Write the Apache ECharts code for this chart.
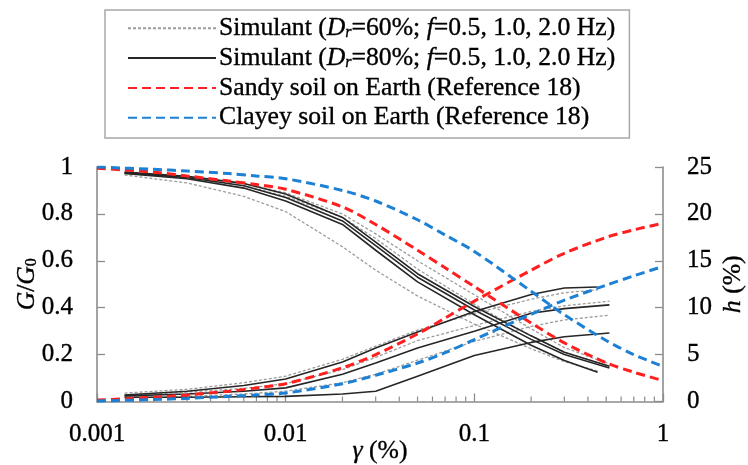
<!DOCTYPE html>
<html>
<head>
<meta charset="utf-8">
<script src="https://cdn.jsdelivr.net/npm/echarts@6/dist/echarts.min.js"></script>
<style>
  html, body { margin: 0; padding: 0; background: #fff; }
  #chart { width: 748px; height: 465px; }
</style>
</head>
<body>
<div id="chart"></div>
<script>
// Reference curves for Earth soils (Reference 18); shear strain in %
const strainRef = [0.001, 0.002, 0.003, 0.005, 0.007, 0.01, 0.02, 0.03, 0.05, 0.07, 0.1, 0.2, 0.3, 0.5, 0.7, 1];
const sandyG  = [0.995, 0.978, 0.962, 0.94, 0.925, 0.905, 0.83, 0.755, 0.645, 0.57, 0.49, 0.335, 0.25, 0.165, 0.125, 0.089];
const sandyH  = [0.15, 0.45, 0.7, 1.1, 1.45, 1.9, 3.6, 5.0, 7.2, 8.9, 10.7, 14.0, 15.8, 17.5, 18.3, 19.0];
const clayeyG = [1.0, 0.99, 0.983, 0.972, 0.962, 0.95, 0.9, 0.855, 0.775, 0.71, 0.64, 0.47, 0.37, 0.26, 0.2, 0.15];
const clayeyH = [0.05, 0.2, 0.33, 0.55, 0.7, 0.9, 1.9, 2.8, 4.1, 5.2, 6.6, 9.3, 10.8, 12.4, 13.4, 14.4];

// Simulant test strains (%)
const strainSimLong  = [0.0014, 0.003, 0.006, 0.01, 0.02, 0.03, 0.05, 0.1, 0.2, 0.3, 0.52];
const strainSimShort = [0.0014, 0.003, 0.006, 0.01, 0.02, 0.03, 0.05, 0.1, 0.2, 0.3, 0.45];

// Simulant, Dr = 60 % (f = 0.5, 1.0, 2.0 Hz)
const sim60G_a = [0.976, 0.958, 0.93, 0.89, 0.80, 0.715, 0.6, 0.455, 0.31, 0.23, 0.16];
const sim60G_b = [0.973, 0.952, 0.92, 0.875, 0.785, 0.695, 0.565, 0.415, 0.28, 0.21, 0.15];
const sim60G_c = [0.966, 0.932, 0.875, 0.81, 0.66, 0.56, 0.45, 0.33, 0.225, 0.17, 0.13];
const sim60H_a = [0.9, 1.3, 2.0, 2.7, 4.5, 5.9, 7.6, 9.4, 10.9, 11.6, 11.9];
const sim60H_b = [0.7, 1.0, 1.4, 1.9, 3.4, 4.7, 6.5, 8.1, 9.6, 10.2, 10.7];
const sim60H_c = [0.4, 0.55, 0.8, 1.1, 2.0, 2.9, 4.4, 6.4, 8.0, 8.7, 9.2];

// Simulant, Dr = 80 % (f = 0.5, 1.0, 2.0 Hz)
const sim80G_a = [0.978, 0.96, 0.93, 0.885, 0.785, 0.68, 0.545, 0.405, 0.28, 0.21, 0.15];
const sim80G_b = [0.975, 0.955, 0.92, 0.87, 0.77, 0.665, 0.53, 0.39, 0.265, 0.2, 0.143];
const sim80G_c = [0.972, 0.95, 0.91, 0.855, 0.755, 0.645, 0.51, 0.37, 0.24, 0.175, 0.125];
const sim80H_a = [0.7, 1.1, 1.7, 2.4, 4.2, 5.7, 7.4, 9.6, 11.4, 12.1, 12.2];
const sim80H_b = [0.6, 0.8, 1.1, 1.45, 2.9, 4.1, 5.7, 7.5, 9.4, 9.9, 10.3];
const sim80H_c = [0.45, 0.45, 0.5, 0.55, 0.8, 1.1, 2.7, 4.9, 6.3, 6.9, 7.3];

// Legend entries
const NAME_60 = 'Simulant (Dr=60%; f=0.5, 1.0, 2.0 Hz)';
const NAME_80 = 'Simulant (Dr=80%; f=0.5, 1.0, 2.0 Hz)';
const NAME_SANDY = 'Sandy soil on Earth (Reference 18)';
const NAME_CLAYEY = 'Clayey soil on Earth (Reference 18)';
const legendNames = [NAME_60, NAME_80, NAME_SANDY, NAME_CLAYEY];
const legendRich = {
  [NAME_60]: '{n|Simulant (}{i|D}{s|r}{n|=60%; }{i|f}{n|=0.5, 1.0, 2.0 Hz)}',
  [NAME_80]: '{n|Simulant (}{i|D}{s|r}{n|=80%; }{i|f}{n|=0.5, 1.0, 2.0 Hz)}',
  [NAME_SANDY]: '{n|Sandy soil on Earth (Reference 18)}',
  [NAME_CLAYEY]: '{n|Clayey soil on Earth (Reference 18)}'
};

// Minor log ticks along the strain axis
const minorTickMultipliers = [2, 3, 4, 5, 6, 7, 8, 9];
const minorTickDecades = [0.001, 0.01, 0.1];

const FONT = 'Liberation Serif';
const AXIS_GRAY = '#8c8c8c';
const RED = '#ff1f1f';
const BLUE = '#1c80d4';
const GRAY = '#9c9c9c';
const BLACK = '#262626';

const zip = (xs, ys) => xs.map((x, i) => [x, ys[i]]);

function simLine(name, xs, ys, axis, dotted) {
  return {
    name, type: 'line', yAxisIndex: axis, data: zip(xs, ys),
    symbol: 'none', showSymbol: false, smooth: false, z: dotted ? 3 : 4,
    lineStyle: dotted
      ? { color: GRAY, width: 1.3, type: [3, 2] }
      : { color: BLACK, width: 1.6, type: 'solid' },
    itemStyle: { color: dotted ? GRAY : BLACK }
  };
}
function refLine(name, ys, axis, color) {
  return {
    name, type: 'line', yAxisIndex: axis, data: zip(strainRef, ys),
    symbol: 'none', showSymbol: false, smooth: 0.3, z: 6,
    lineStyle: { color, width: 3, type: [9, 5] },
    itemStyle: { color }
  };
}

const minorTicks = [];
minorTickDecades.forEach(d => minorTickMultipliers.forEach(m => minorTicks.push([+(d * m).toPrecision(3), 0])));

const INK = { color: '#000', textBorderColor: '#000', textBorderWidth: 0.35 };
const rich = {
  n: Object.assign({ fontFamily: FONT, fontSize: 25.7, lineHeight: 26 }, INK),
  i: Object.assign({ fontFamily: FONT, fontSize: 25.7, fontStyle: 'italic', lineHeight: 26 }, INK),
  s: Object.assign({ fontFamily: FONT, fontSize: 16, fontStyle: 'italic', lineHeight: 26, verticalAlign: 'bottom', padding: [9, 0, 0, 0] }, INK),
  z: Object.assign({ fontFamily: FONT, fontSize: 16, lineHeight: 26, verticalAlign: 'bottom', padding: [9, 0, 0, 0] }, INK)
};
const tickLabel = Object.assign({ fontFamily: FONT, fontSize: 25 }, INK);

const chart = echarts.init(document.getElementById('chart'), null, { renderer: 'canvas' });
chart.setOption({
  animation: false,
  backgroundColor: '#fff',
  grid: { left: 97, right: 85, top: 167, bottom: 63.5, containLabel: false, outerBoundsMode: 'none' },
  legend: {
    data: legendNames,
    orient: 'vertical',
    left: 105, top: 10,
    padding: [5, 14, 7, 22],
    itemWidth: 88, itemHeight: 14, itemGap: 3.5,
    borderColor: '#a8a8a8', borderWidth: 1.5,
    selectedMode: false,
    itemStyle: { opacity: 0 },
    formatter: name => legendRich[name],
    textStyle: { fontFamily: FONT, fontSize: 25.7, color: '#000', padding: [0, 0, 0, -2], rich }
  },
  xAxis: {
    type: 'log', logBase: 10, min: 0.001, max: 1,
    name: '{i|γ}{n| (%)}', nameLocation: 'middle', nameGap: 37, nameMoveOverlap: false,
    nameTextStyle: { rich },
    axisLine: { show: true, lineStyle: { color: AXIS_GRAY, width: 1.6 } },
    axisTick: { show: true, inside: true, length: 8, lineStyle: { color: AXIS_GRAY, width: 1.3 } },
    splitLine: { show: false },
    minorTick: { show: false },
    axisLabel: Object.assign({ margin: 20, formatter: v => String(v) }, tickLabel)
  },
  yAxis: [
    {
      type: 'value', min: 0, max: 1, interval: 0.2, position: 'left',
      name: '{i|G}{n|/}{i|G}{z|0}', nameLocation: 'middle', nameGap: 57, nameRotate: 90, nameMoveOverlap: false,
      nameTextStyle: { rich },
      axisLine: { show: true, lineStyle: { color: AXIS_GRAY, width: 1.6 } },
      axisTick: { show: true, inside: true, length: 8, lineStyle: { color: AXIS_GRAY, width: 1.3 } },
      splitLine: { show: false },
      axisLabel: Object.assign({ margin: 24 }, tickLabel)
    },
    {
      type: 'value', min: 0, max: 25, interval: 5, position: 'right',
      name: '{i|h}{n| (%)}', nameLocation: 'middle', nameGap: 57, nameRotate: 90, nameMoveOverlap: false,
      nameTextStyle: { rich },
      axisLine: { show: true, lineStyle: { color: AXIS_GRAY, width: 1.6 } },
      axisTick: { show: true, inside: true, length: 8, lineStyle: { color: AXIS_GRAY, width: 1.3 } },
      splitLine: { show: false },
      axisLabel: Object.assign({ margin: 24 }, tickLabel)
    }
  ],
  series: [
    {
      type: 'custom', xAxisIndex: 0, yAxisIndex: 0, silent: true, clip: false, z: 2,
      data: minorTicks, encode: { x: 0, y: 1 },
      renderItem(params, api) {
        const p = api.coord([api.value(0), api.value(1)]);
        return { type: 'line', shape: { x1: p[0], y1: p[1], x2: p[0], y2: p[1] - 5 },
                 style: { stroke: AXIS_GRAY, lineWidth: 1.2 } };
      }
    },
    simLine(NAME_60, strainSimLong, sim60G_a, 0, true),
    simLine(NAME_60, strainSimLong, sim60G_b, 0, true),
    simLine(NAME_60, strainSimShort, sim60G_c, 0, true),
    simLine(NAME_60, strainSimShort, sim60H_a, 1, true),
    simLine(NAME_60, strainSimLong, sim60H_b, 1, true),
    simLine(NAME_60, strainSimLong, sim60H_c, 1, true),
    simLine(NAME_80, strainSimLong, sim80G_a, 0, false),
    simLine(NAME_80, strainSimLong, sim80G_b, 0, false),
    simLine(NAME_80, strainSimShort, sim80G_c, 0, false),
    simLine(NAME_80, strainSimShort, sim80H_a, 1, false),
    simLine(NAME_80, strainSimLong, sim80H_b, 1, false),
    simLine(NAME_80, strainSimLong, sim80H_c, 1, false),
    refLine(NAME_SANDY, sandyG, 0, RED),
    refLine(NAME_SANDY, sandyH, 1, RED),
    refLine(NAME_CLAYEY, clayeyG, 0, BLUE),
    refLine(NAME_CLAYEY, clayeyH, 1, BLUE)
  ]
});
</script>
</body>
</html>
